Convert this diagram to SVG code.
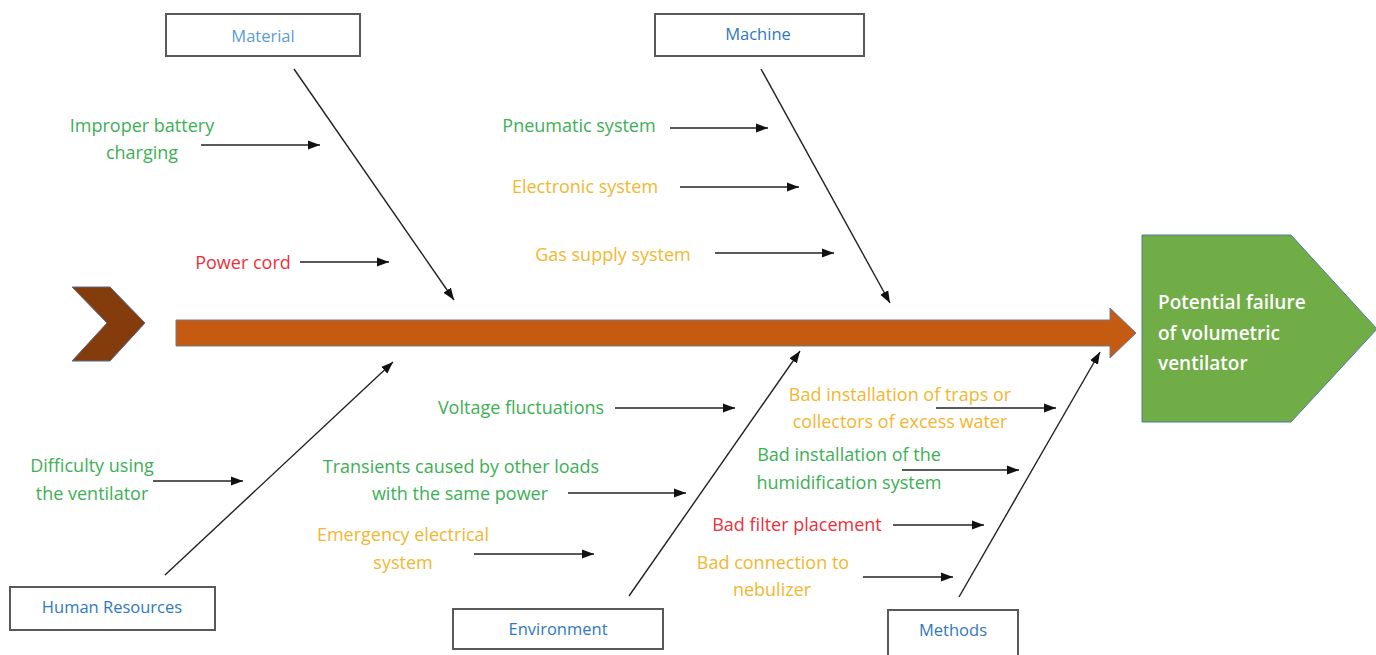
<svg xmlns="http://www.w3.org/2000/svg" width="1376" height="655" viewBox="0 0 1376 655">
<defs>
<marker id="ah" markerUnits="userSpaceOnUse" markerWidth="14" markerHeight="12" refX="12" refY="6" orient="auto">
<path d="M0,1.5 L12,6 L0,10.5 Z" fill="#111"/>
</marker>
<style>
text{font-family:"Open Sans","Liberation Sans",sans-serif;text-anchor:middle}
.it{font-size:18px}
.bx{font-size:16.5px}
.g{fill:#3daf55}
.y{fill:#f2b731}
.r{fill:#ec2f3b}
.b{fill:#2f78bf}
.lb{fill:#5b9bd5}
.box{fill:#fff;stroke:#595959;stroke-width:2}
.ln{stroke:#222;stroke-width:1.6;fill:none;marker-end:url(#ah)}
.br{stroke:#222;stroke-width:1.4;fill:none;marker-end:url(#ah)}
</style>
</defs>
<rect width="1376" height="655" fill="#fff"/>

<g id="spine">
<polygon points="72,287 110,287 145,323 110,361 72,361 107,323" fill="#843c0c" stroke="#5a6a8a" stroke-width="1"/>
<polygon points="176,320 1110,320 1110,308 1136,333 1110,358 1110,346 176,346" fill="#c55a11" stroke="#6b7a96" stroke-width="1"/>
</g>

<g id="effect">
<polygon points="1142,235 1291,235 1377,329 1291,422 1142,422" fill="#70ad47" stroke="#4f7aa0" stroke-width="1"/>
<text x="1158" y="309" style="text-anchor:start;font-size:19px;font-weight:600;fill:#fff">Potential failure</text>
<text x="1158" y="340" style="text-anchor:start;font-size:19px;font-weight:600;fill:#fff">of volumetric</text>
<text x="1158" y="370" style="text-anchor:start;font-size:19px;font-weight:600;fill:#fff">ventilator</text>
</g>

<g id="material">
<rect class="box" x="166" y="14" width="194" height="42"/>
<text class="bx lb" x="263" y="42">Material</text>
</g>
<g id="machine">
<rect class="box" x="655" y="14" width="209" height="42"/>
<text class="bx b" x="758" y="40">Machine</text>
</g>
<g id="human-resources">
<rect class="box" x="10" y="587" width="205" height="43"/>
<text class="bx b" x="112" y="613">Human Resources</text>
</g>
<g id="environment">
<rect class="box" x="453" y="609" width="210" height="40"/>
<text class="bx b" x="558" y="635">Environment</text>
</g>
<g id="methods">
<rect class="box" x="888" y="610" width="130" height="55"/>
<text class="bx b" x="953" y="636">Methods</text>
</g>

<g id="causes">
<text class="it g" x="142" y="132">Improper battery</text>
<text class="it g" x="142" y="159">charging</text>
<text class="it r" x="243" y="269">Power cord</text>
<text class="it g" x="579" y="132">Pneumatic system</text>
<text class="it y" x="585" y="193">Electronic system</text>
<text class="it y" x="613" y="261">Gas supply system</text>
<text class="it g" x="92" y="472">Difficulty using</text>
<text class="it g" x="92" y="500">the ventilator</text>
<text class="it g" x="521" y="414">Voltage fluctuations</text>
<text class="it g" x="461" y="473">Transients caused by other loads</text>
<text class="it g" x="460" y="500">with the same power</text>
<text class="it y" x="403" y="541">Emergency electrical</text>
<text class="it y" x="403" y="569">system</text>
<text class="it y" x="900" y="401">Bad installation of traps or</text>
<text class="it y" x="900" y="428">collectors of excess water</text>
<text class="it g" x="849" y="461">Bad installation of the</text>
<text class="it g" x="849" y="489">humidification system</text>
<text class="it r" x="797" y="531">Bad filter placement</text>
<text class="it y" x="773" y="569">Bad connection to</text>
<text class="it y" x="772" y="596">nebulizer</text>
</g>

<g id="connectors">
<line class="br" x1="294" y1="69" x2="454" y2="300"/>
<line class="br" x1="761" y1="69" x2="890" y2="303"/>
<line class="br" x1="165" y1="575" x2="393" y2="362"/>
<line class="br" x1="629" y1="596" x2="800" y2="351"/>
<line class="br" x1="959" y1="597" x2="1100" y2="352"/>
<line class="ln" x1="201" y1="145" x2="320" y2="145"/>
<line class="ln" x1="300" y1="262" x2="389" y2="262"/>
<line class="ln" x1="670" y1="128" x2="768" y2="128"/>
<line class="ln" x1="680" y1="187" x2="799" y2="187"/>
<line class="ln" x1="715" y1="253" x2="834" y2="253"/>
<line class="ln" x1="153" y1="481" x2="243" y2="481"/>
<line class="ln" x1="615" y1="408" x2="735" y2="408"/>
<line class="ln" x1="568" y1="493" x2="686" y2="493"/>
<line class="ln" x1="474" y1="554" x2="594" y2="554"/>
<line class="ln" x1="936" y1="408" x2="1056" y2="408"/>
<line class="ln" x1="902" y1="470" x2="1019" y2="470"/>
<line class="ln" x1="893" y1="525" x2="984" y2="525"/>
<line class="ln" x1="863" y1="577" x2="953" y2="577"/>
</g>
</svg>
